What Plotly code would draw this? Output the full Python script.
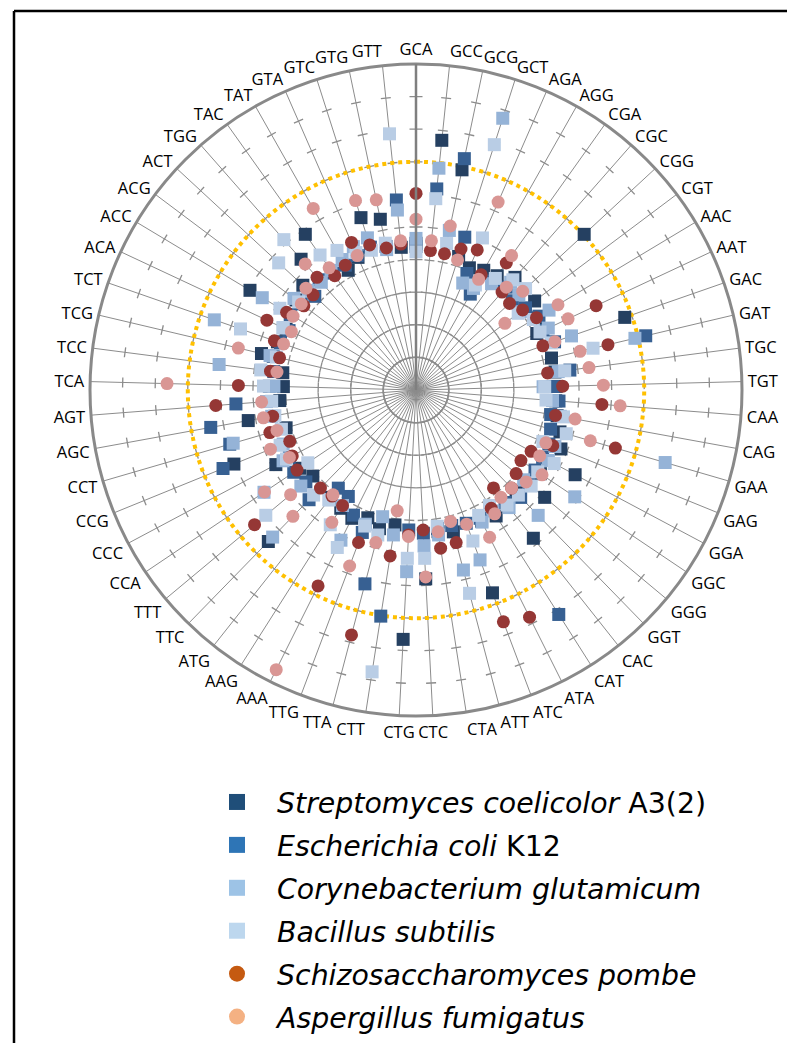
import numpy as np
import plotly.graph_objects as go

codons = ["GCA","GCC","GCG","GCT","AGA","AGG","CGA","CGC","CGG","CGT","AAC","AAT","GAC","GAT",
          "TGC","TGT","CAA","CAG","GAA","GAG","GGA","GGC","GGG","GGT","CAC","CAT","ATA","ATC",
          "ATT","CTA","CTC","CTG","CTT","TTA","TTG","AAA","AAG","ATG","TTC","TTT","CCA","CCC",
          "CCG","CCT","AGC","AGT","TCA","TCC","TCG","TCT","ACA","ACC","ACG","ACT","TGG","TAC",
          "TAT","GTA","GTC","GTG","GTT"]

streptomyces = [4.5,7.7,6.9,4.3,4.09,4.22,4.3,4.6,7.03,4.55,4.3,4.09,6.78,4.27,4.3,4.3,4.3,4.4,4.6,4.8,
                5.53,4.6,5.14,4.4,5.8,4.58,4.5,6.65,4.5,4.4,5.8,7.66,4.19,4.4,4.19,4.4,4.3,4.2,6.49,4.12,
                4.3,4.87,6.03,4.15,5.23,4.19,4.07,4.12,4.87,4.5,4.4,5.94,4.6,4.73,5.34,5.86,4.22,4.44,5.55,5.35,4.4]
ecoli = [4.4,6.2,7.25,4.92,3.9,3.38,4.1,4.2,4.03,4.2,4.4,4.3,4.5,7.24,4.76,4.2,4.4,4.2,4.3,4.4,
         4.4,4.4,4.5,4.6,4.4,8.16,4.4,4.37,4.3,4.3,4.4,4.3,7.02,6.15,4.67,4.29,3.87,3.84,4.7,4.4,
         4.52,4.4,6.39,5.95,6.4,5.54,4.5,4.4,4.5,4.4,4.3,4.5,4.4,4.23,4.5,4.4,4.4,4.5,4.6,4.5,5.86]
corynebacterium = [4.65,6.84,5.0,8.75,3.58,3.58,4.0,4.4,4.3,4.0,4.76,4.48,5.05,6.9,4.4,3.9,4.2,4.5,7.96,4.6,
                   4.6,5.87,4.3,5.37,4.6,4.4,4.53,5.57,5.71,4.5,4.79,5.58,4.5,4.02,4.4,5.15,4.2,4.29,6.3,4.6,
                   5.62,4.62,4.4,5.84,4.5,4.6,4.36,6.09,4.6,6.55,4.5,5.5,4.68,4.5,4.4,4.5,4.6,4.8,4.9,4.4,5.55]
bacillus = [4.24,5.9,4.59,7.9,5.09,3.7,4.2,4.5,4.58,3.92,4.2,4.2,4.4,5.58,4.6,3.95,4.0,4.6,4.8,4.2,
            4.8,4.5,4.6,4.5,4.5,4.2,4.3,4.95,6.45,4.23,5.17,5.17,8.75,4.6,4.46,5.4,4.9,4.3,4.5,6.0,
            4.0,4.5,4.5,4.3,4.4,4.44,4.68,4.8,4.4,5.7,4.5,4.87,4.5,5.74,6.14,5.08,4.92,4.6,4.5,4.6,7.9]
pombe = [6.03,4.3,4.27,4.54,4.69,4.06,4.78,4.0,3.91,4.09,4.31,6.1,4.12,6.05,4.07,4.5,5.72,4.35,6.37,4.53,
         4.0,3.88,4.0,4.2,3.83,4.3,7.79,7.6,4.84,4.91,4.3,4.45,5.15,7.77,5.0,6.72,4.2,4.15,4.2,6.45,
         4.4,4.3,4.18,4.67,4.47,6.16,5.45,4.5,4.3,4.6,5.05,4.63,4.3,4.3,4.6,4.3,4.4,4.94,4.67,4.45,4.5]
aspergillus = [5.24,4.6,5.14,4.19,6.29,3.9,5.06,4.2,4.46,3.41,5.08,5.15,4.51,5.17,5.35,5.75,6.28,4.96,5.57,4.3,
               4.3,4.66,4.4,4.2,4.2,4.5,5.05,4.4,4.17,4.4,5.74,4.5,3.75,4.84,5.77,9.59,4.81,4.1,5.41,5.01,
               5.6,4.4,4.82,4.44,4.76,4.75,7.64,4.3,5.6,4.3,4.22,4.4,4.4,4.6,5.15,4.6,6.4,4.5,6.1,5.96,4.6]

series_names = ["<i>Streptomyces coelicolor</i> A3(2)", "<i>Escherichia coli</i> K12",
                "<i>Corynebacterium glutamicum</i>", "<i>Bacillus subtilis</i>",
                "<i>Schizosaccharomyces pombe</i>", "<i>Aspergillus fumigatus</i>"]
series_values = [streptomyces, ecoli, corynebacterium, bacillus, pombe, aspergillus]
plot_colors = ["#254061", "#376092", "#95B3D7", "#B9CDE5", "#953735", "#D99694"]
legend_colors = ["#1F4E79", "#2E75B6", "#9DC3E6", "#BDD7EE", "#C55A11", "#F4B183"]
symbols = ["square", "square", "square", "square", "circle", "circle"]

r_max = 10
threshold = 7
N = len(codons)
step = 360.0 / N
theta = [i * step for i in range(N)]

W, H = 795, 1043
cx, cy, R_px = 408, 382, 326   # page adds an 8px body margin
px_per_unit = R_px / r_max

fig = go.Figure()

# cross tick marks on every spoke at each radial unit
tr, tt = [], []
for k in range(N):
    half = (6.5 if k == 0 else 5.0) / px_per_unit
    for j in range(1, r_max):
        rr = (j ** 2 + half ** 2) ** 0.5
        d = np.degrees(np.arctan(half / j))
        tr += [rr, rr, None]
        tt += [theta[k] - d, theta[k] + d, None]
fig.add_trace(go.Scatterpolar(r=tr, theta=tt, mode="lines",
                              line=dict(color="#8c8c8c", width=1.3),
                              showlegend=False, hoverinfo="skip"))

# dotted threshold circle
circ_t = np.linspace(0, 360, 721)
fig.add_trace(go.Scatterpolar(r=[threshold] * len(circ_t), theta=circ_t, mode="lines",
                              line=dict(color="#FFC000", width=4, dash="dot"),
                              showlegend=False, hoverinfo="skip"))

for name, vals, col, sym in zip(series_names, series_values, plot_colors, symbols):
    fig.add_trace(go.Scatterpolar(r=vals, theta=theta, mode="markers", name=name,
                                  marker=dict(symbol=sym, size=13, color=col),
                                  showlegend=False))

for i, (name, col, sym) in enumerate(zip(series_names, legend_colors, symbols)):
    fig.add_trace(go.Scatterpolar(r=[None], theta=[None], mode="markers", name=name,
                                  legendgroup="g%d" % i,
                                  marker=dict(symbol=sym, size=18, color=col)))

fig.update_layout(
    width=W, height=H,
    margin=dict(l=0, r=0, t=0, b=0),
    paper_bgcolor="white",
    showlegend=True,
    polar=dict(
        domain=dict(x=[(cx - R_px) / W, (cx + R_px) / W],
                    y=[1 - (cy + R_px) / H, 1 - (cy - R_px) / H]),
        bgcolor="white",
        angularaxis=dict(
            rotation=90, direction="clockwise", thetaunit="degrees",
            tickmode="array", tickvals=theta, ticktext=codons,
            ticks="outside", ticklen=1, tickcolor="rgba(0,0,0,0)",
            showgrid=True, gridcolor="#8c8c8c", gridwidth=1.3,
            showline=True, linecolor="#898989", linewidth=3,
            tickfont=dict(family="Open Sans", size=16.5, color="#000000"),
        ),
        radialaxis=dict(
            range=[0, r_max], angle=90, showticklabels=False, ticks="", showgrid=False,
            showline=True, linecolor="#7f7f7f", linewidth=2.5,
        ),
    ),
    legend=dict(
        x=189 / W, y=1 - 769 / H, xanchor="left", yanchor="top",
        font=dict(family="DejaVu Sans", size=28.4, color="#000000"),
        tracegroupgap=3, itemwidth=70, bgcolor="rgba(0,0,0,0)",
    ),
    shapes=[
        dict(type="line", xref="paper", yref="paper", x0=6 / W, x1=6 / W, y0=0, y1=1 - 3 / H,
             line=dict(color="black", width=2.5)),
        dict(type="line", xref="paper", yref="paper", x0=6 / W, x1=1, y0=1 - 3 / H, y1=1 - 3 / H,
             line=dict(color="black", width=2.5)),
    ],
)

fig.write_html("out.html")
